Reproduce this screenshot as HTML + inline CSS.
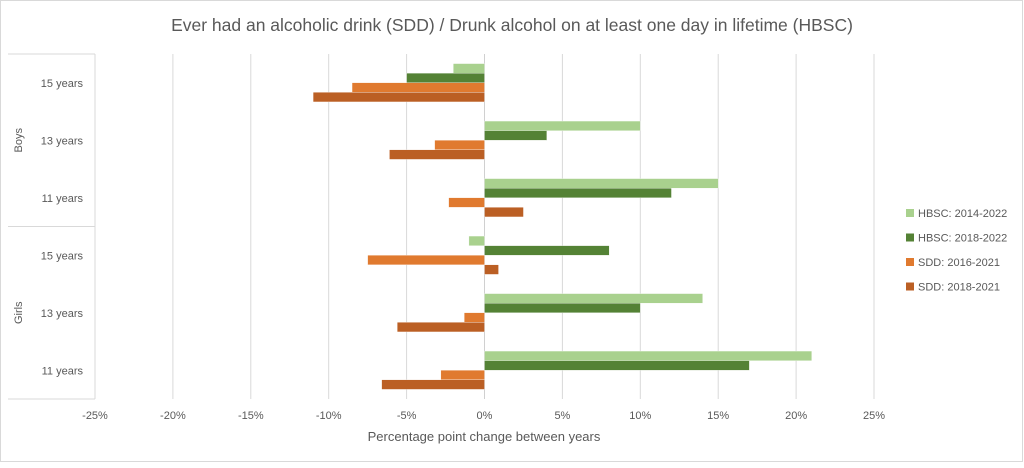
<!DOCTYPE html>
<html><head><meta charset="utf-8"><style>
body{margin:0;background:#fff;font-family:"Liberation Sans",sans-serif}
svg text{font-family:"Liberation Sans",sans-serif;fill:#595959}
</style></head><body>
<svg id="c" width="1024" height="463">
<rect x="0.5" y="0.5" width="1022" height="461" fill="#fff" stroke="#d9d9d9"/>
<text x="512" y="31" text-anchor="middle" font-size="17.5">Ever had an alcoholic drink (SDD) / Drunk alcohol on at least one day in lifetime (HBSC)</text>
<g id="grid"></g><g id="bars"></g><g id="axes"></g>
<text x="484" y="441" text-anchor="middle" font-size="13">Percentage point change between years</text>
<g id="legend"></g>
</svg>
<script>
const categories=["Boys 15 years","Boys 13 years","Boys 11 years","Girls 15 years","Girls 13 years","Girls 11 years"];
const ageLabels=["15 years","13 years","11 years","15 years","13 years","11 years"];
const seriesNames=["HBSC: 2014-2022","HBSC: 2018-2022","SDD: 2016-2021","SDD: 2018-2021"];
const hbsc1422=[-2,10,15,-1,14,21];
const hbsc1822=[-5,4,12,8,10,17];
const sdd1621=[-8.5,-3.2,-2.3,-7.5,-1.3,-2.8];
const sdd1821=[-11,-6.1,2.5,0.9,-5.6,-6.6];
const ticks=[-25,-20,-15,-10,-5,0,5,10,15,20,25];
const series=[hbsc1422,hbsc1822,sdd1621,sdd1821];
const colors=["#a9d18e","#548235","#e07a2f","#bb5f24"];
const NS="http://www.w3.org/2000/svg";
const X0=95,X1=874,Y0=54,Y1=399;
const x=v=>X0+(v+25)/50*(X1-X0);
const gh=(Y1-Y0)/categories.length;
const bh=gh/6;
function mk(t,a,p){const e=document.createElementNS(NS,t);for(const k in a)e.setAttribute(k,a[k]);p.appendChild(e);return e;}
const grid=document.getElementById('grid'),bars=document.getElementById('bars'),axes=document.getElementById('axes'),lg=document.getElementById('legend');
ticks.forEach(t=>{
 const l=mk('line',{x1:x(t),x2:x(t),y1:Y0,y2:Y1,stroke:t===0?'#d0d0d0':'#d9d9d9','stroke-width':1},grid);
 
 
 const tx=mk('text',{x:x(t),y:Y1+20,'text-anchor':'middle','font-size':11},axes);
 tx.textContent=t+'%';
 
 
});
categories.forEach((c,i)=>{
 const gy=Y0+i*gh;
 series.forEach((s,j)=>{
  const v=s[i];const a=x(Math.min(0,v)),b=x(Math.max(0,v));
  const r=mk('rect',{x:a,y:gy+bh+j*bh,width:Math.max(b-a,0.5),height:bh,fill:colors[j],stroke:'#fff','stroke-width':0.3},bars);
  
  
 });
 const t=mk('text',{x:83,y:gy+gh/2+4,'text-anchor':'end','font-size':11},axes);
 t.textContent=ageLabels[i];
 
 
});
[[8,Y0],[8,Y0+3*gh],[8,Y1]].forEach(p=>{
 const l=mk('line',{x1:p[0],x2:X0,y1:p[1],y2:p[1],stroke:'#d9d9d9'},axes);
 
 
});
const va=mk('line',{x1:X0,x2:X0,y1:Y0,y2:Y1,stroke:'#d9d9d9'},axes);


[["Boys",Y0+1.5*gh],["Girls",Y0+4.5*gh]].forEach(g=>{
 const t=mk('text',{x:0,y:0,'text-anchor':'middle','font-size':11,transform:`translate(22,${g[1]}) rotate(-90)`},axes);
 t.textContent=g[0];
 
 
});
seriesNames.forEach((n,j)=>{
 const y=213+j*24.5;
 const r=mk('rect',{x:906,y:y-4,width:8,height:8,fill:colors[j]},lg);
 
 
 const t=mk('text',{x:918,y:y+4,'font-size':11},lg);
 t.textContent=n;
 
 
});
</script>
</body></html>
